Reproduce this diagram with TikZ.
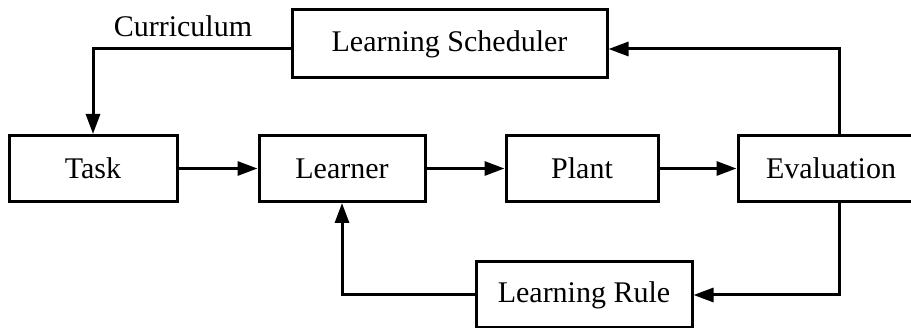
\documentclass[tikz,border=0pt]{standalone}
\usepackage{fontspec}
\setmainfont{Liberation Serif}
\usetikzlibrary{arrows.meta}

\begin{document}
\begin{tikzpicture}[
    x=1pt, y=-1pt,
    blk/.style={draw, line width=3pt, minimum height=66pt, inner sep=0pt, font=\fontsize{30}{36}\selectfont},
    lbl/.style={inner sep=0pt, font=\fontsize{30}{36}\selectfont},
    flow/.style={line width=3pt, -{Triangle[length=20pt, width=14pt]}},
]
    \useasboundingbox (0,0) rectangle (911,328);
    \clip (0,0) rectangle (911,328);
    \node[blk, minimum width=315pt, minimum height=68pt] (sched) at (449.5,44) {Learning Scheduler};
    \node[blk, minimum width=168pt] (task) at (93,168.5) {Task};
    \node[blk, minimum width=166pt] (learner) at (342,168.5) {Learner};
    \node[blk, minimum width=152pt] (plant) at (582,168.5) {Plant};
    \node[blk, minimum width=202pt] (eval) at (839,168.5) {\hspace*{-8pt}Evaluation\hspace*{8pt}};
    \node[blk, minimum width=216pt] (rule) at (584,295) {Learning Rule};
    \node[lbl] (curr) at (183,26) {Curriculum};
    \draw[flow] (task) -- (learner);
    \draw[flow] (learner) -- (plant);
    \draw[flow] (plant) -- (eval);
    \draw[flow] ([yshift=-5pt]sched.west) -| (task.north);
    \draw[flow] (eval.north) |- ([yshift=-5pt]sched.east);
    \draw[flow] (eval.south) |- (rule.east);
    \draw[flow] (rule.west) -| (learner.south);
\end{tikzpicture}
\end{document}
